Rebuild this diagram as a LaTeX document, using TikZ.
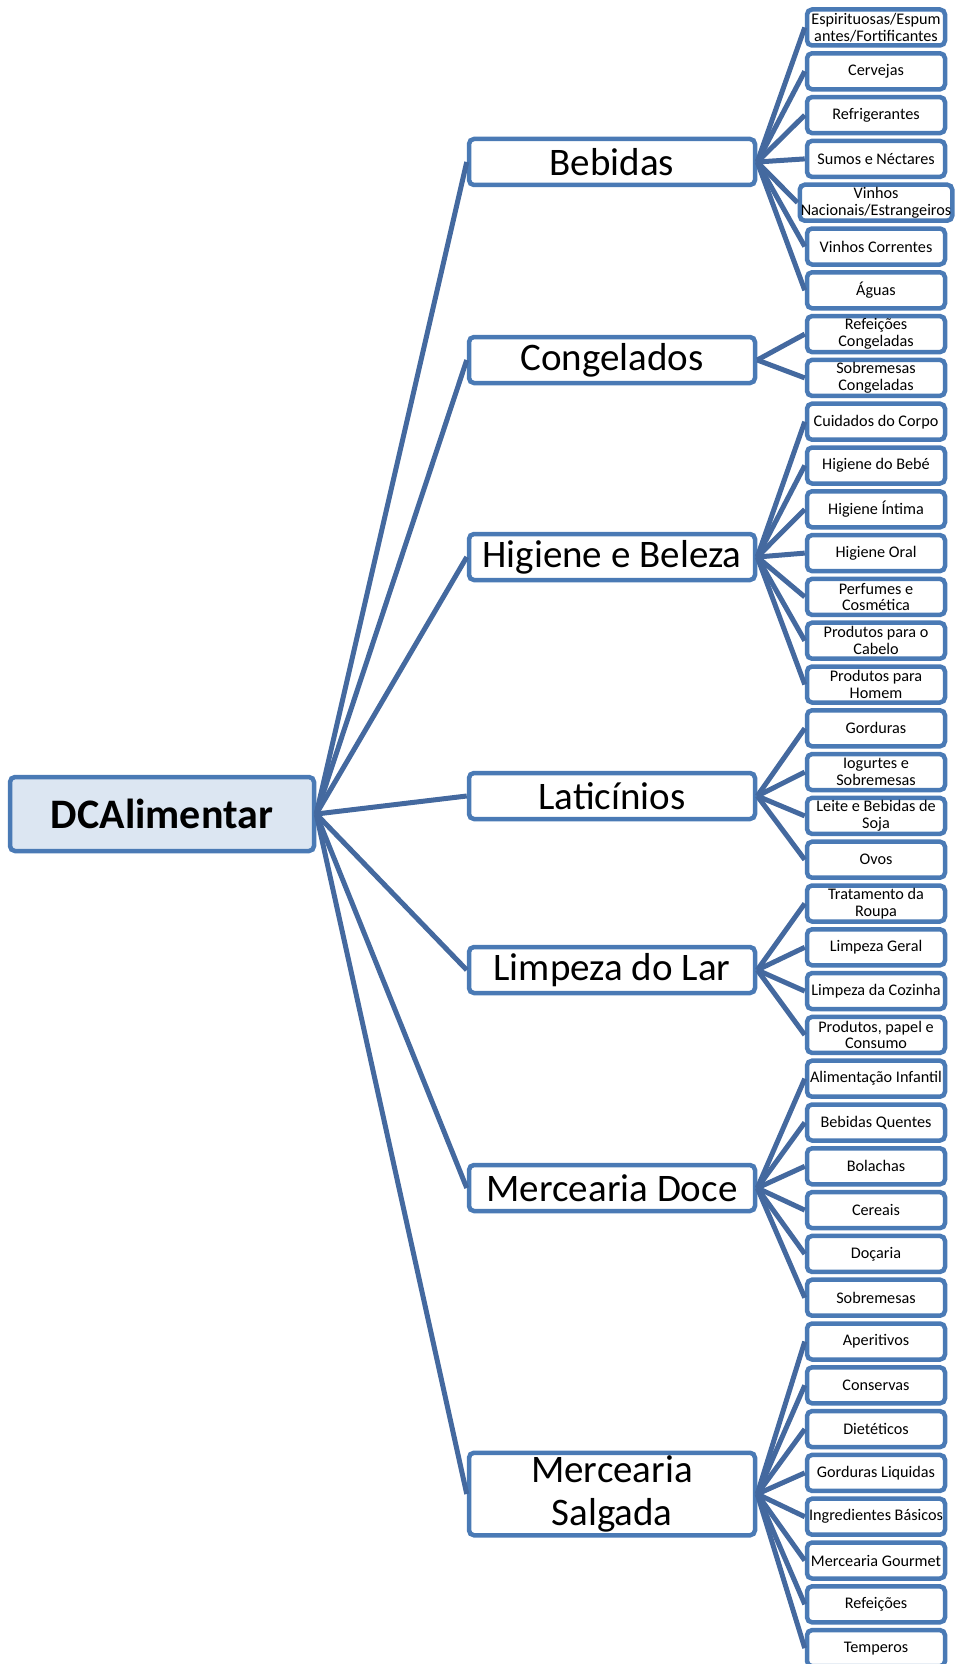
\documentclass[tikz,border=0pt]{standalone}
\usepackage{fontspec}
\setmainfont{Carlito}
\usetikzlibrary{positioning}

\definecolor{boxblue}{HTML}{4A7AB5}
\definecolor{lineblue}{HTML}{44699F}
\definecolor{rootfill}{HTML}{DCE6F2}

\begin{document}
\begin{tikzpicture}[
  x=1pt, y=1pt,
  node distance=3.3pt,
  every node/.style={
    draw=boxblue,
    line width=4.5pt,
    rounded corners=5pt,
    align=center,
    fill=white
  },
  rootbox/.style={fill=rootfill, minimum width=304pt, minimum height=74pt,
    font=\fontsize{42}{48}\selectfont\bfseries},
  category/.style={minimum width=286pt, minimum height=46pt, inner sep=3pt,
    font=\fontsize{39}{43}\selectfont},
  leaf/.style={minimum width=138pt, minimum height=36pt, inner sep=1pt,
    font=\fontsize{16.2}{16.6}\selectfont},
  link/.style={draw=lineblue, line width=5pt}
]
  \useasboundingbox (0,0) rectangle (954,-1664);

  % root and categories
  \node[rootbox] (root) at (162,-814) {DCAlimentar};
  \node[category] (bebidas) at (612,-162) {Bebidas};
  \node[category] (congelados) at (612,-360) {Congelados};
  \node[category] (higiene) at (612,-557) {Higiene e Beleza};
  \node[category] (laticinios) at (612,-796) {Laticínios};
  \node[category] (limpeza) at (612,-970) {Limpeza do Lar};
  \node[category] (doce) at (612,-1188) {Mercearia Doce};
  \node[category] (salgada) at (612,-1494) {Mercearia\\Salgada};

  % Bebidas
  \node[leaf] (espirituosas) at (876,-27.5) {Espirituosas/Espum\\antes/Fortificantes};
  \node[leaf, below=of espirituosas] (cervejas) {Cervejas};
  \node[leaf, below=of cervejas] (refrigerantes) {Refrigerantes};
  \node[leaf, below=of refrigerantes] (sumos) {Sumos e Néctares};
  \node[leaf, below=of sumos, minimum width=149pt] (vinhosnac) {Vinhos\\Nacionais/Estrangeiros};
  \node[leaf, below=of vinhosnac] (vinhoscor) {Vinhos Correntes};
  \node[leaf, below=of vinhoscor] (aguas) {Águas};
  % Congelados
  \node[leaf, below=of aguas] (refcong) {Refeições\\Congeladas};
  \node[leaf, below=of refcong] (sobcong) {Sobremesas\\Congeladas};
  % Higiene e Beleza
  \node[leaf, below=of sobcong] (corpo) {Cuidados do Corpo};
  \node[leaf, below=of corpo] (bebe) {Higiene do Bebé};
  \node[leaf, below=of bebe] (intima) {Higiene Íntima};
  \node[leaf, below=of intima] (oral) {Higiene Oral};
  \node[leaf, below=of oral] (perfumes) {Perfumes e\\Cosmética};
  \node[leaf, below=of perfumes] (cabelo) {Produtos para o\\Cabelo};
  \node[leaf, below=of cabelo] (homem) {Produtos para\\Homem};
  % Laticinios
  \node[leaf, below=of homem] (gorduras) {Gorduras};
  \node[leaf, below=of gorduras] (iogurtes) {Iogurtes e\\Sobremesas};
  \node[leaf, below=of iogurtes] (leite) {Leite e Bebidas de\\Soja};
  \node[leaf, below=of leite] (ovos) {Ovos};
  % Limpeza do Lar
  \node[leaf, below=of ovos] (roupa) {Tratamento da\\Roupa};
  \node[leaf, below=of roupa] (geral) {Limpeza Geral};
  \node[leaf, below=of geral] (cozinha) {Limpeza da Cozinha};
  \node[leaf, below=of cozinha] (papel) {Produtos, papel e\\Consumo};
  % Mercearia Doce
  \node[leaf, below=of papel] (infantil) {Alimentação Infantil};
  \node[leaf, below=of infantil] (quentes) {Bebidas Quentes};
  \node[leaf, below=of quentes] (bolachas) {Bolachas};
  \node[leaf, below=of bolachas] (cereais) {Cereais};
  \node[leaf, below=of cereais] (docaria) {Doçaria};
  \node[leaf, below=of docaria] (sobremesas) {Sobremesas};
  % Mercearia Salgada
  \node[leaf, below=of sobremesas] (aperitivos) {Aperitivos};
  \node[leaf, below=of aperitivos] (conservas) {Conservas};
  \node[leaf, below=of conservas] (dieteticos) {Dietéticos};
  \node[leaf, below=of dieteticos] (liquidas) {Gorduras Liquidas};
  \node[leaf, below=of liquidas] (ingredientes) {Ingredientes Básicos};
  \node[leaf, below=of ingredientes] (gourmet) {Mercearia Gourmet};
  \node[leaf, below=of gourmet] (refeicoes) {Refeições};
  \node[leaf, below=of refeicoes] (temperos) {Temperos};

  % root links
  \foreach \c in {bebidas,congelados,higiene,laticinios,limpeza,doce,salgada}
    \draw[link] (root.east) -- (\c.west);

  % leaf links
  \foreach \l in {espirituosas,cervejas,refrigerantes,sumos,vinhosnac,vinhoscor,aguas}
    \draw[link] (bebidas.east) -- (\l.west);
  \foreach \l in {refcong,sobcong}
    \draw[link] (congelados.east) -- (\l.west);
  \foreach \l in {corpo,bebe,intima,oral,perfumes,cabelo,homem}
    \draw[link] (higiene.east) -- (\l.west);
  \foreach \l in {gorduras,iogurtes,leite,ovos}
    \draw[link] (laticinios.east) -- (\l.west);
  \foreach \l in {roupa,geral,cozinha,papel}
    \draw[link] (limpeza.east) -- (\l.west);
  \foreach \l in {infantil,quentes,bolachas,cereais,docaria,sobremesas}
    \draw[link] (doce.east) -- (\l.west);
  \foreach \l in {aperitivos,conservas,dieteticos,liquidas,ingredientes,gourmet,refeicoes,temperos}
    \draw[link] (salgada.east) -- (\l.west);
\end{tikzpicture}
\end{document}
